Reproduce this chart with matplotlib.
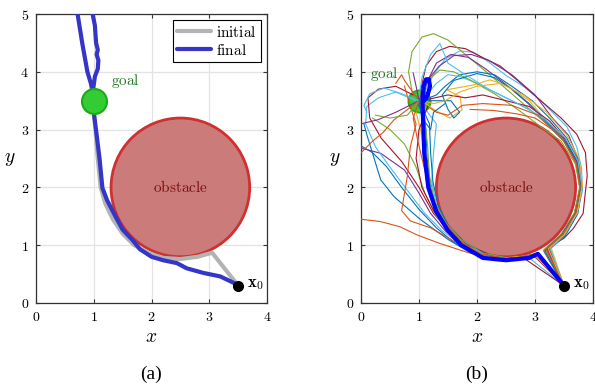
import matplotlib
matplotlib.use("Agg")
import matplotlib.pyplot as plt
from matplotlib.patches import Circle
from matplotlib.ticker import FuncFormatter

plt.rcParams['mathtext.fontset'] = 'cm'

# scene
obstacle_center = (2.5, 2.0)
obstacle_radius = 1.2
goal = (1.0, 3.5)
start = (3.5, 0.3)

# (a) initial and final paths
initial_x = [3.5, 3.05, 2.8, 2.5, 2.2, 1.95, 1.7, 1.5, 1.33, 1.2, 1.12, 1.07, 1.03, 1.0, 0.98]
initial_y = [0.3, 0.87, 0.8, 0.76, 0.78, 0.86, 1.0, 1.2, 1.45, 1.72, 2.0, 2.5, 3.0, 3.3, 3.6]

final_x = [3.5, 3.42, 3.19, 2.9, 2.61, 2.44, 2.2, 2.0, 1.8, 1.67, 1.5, 1.38, 1.23, 1.15, 1.1,
           1.04, 1.0, 0.98, 0.99, 1.02, 1.07, 1.08, 1.05, 1.07, 1.04, 1.02, 0.98, 0.95,
           0.8, 0.72, 0.8, 0.89, 0.95, 0.98]
final_y = [0.3, 0.35, 0.46, 0.52, 0.6, 0.69, 0.74, 0.8, 0.93, 1.09, 1.27, 1.49, 1.78, 1.99, 2.5,
           2.99, 3.3, 3.51, 3.7, 3.92, 4.05, 4.2, 4.3, 4.38, 4.5, 4.8, 5.0, 5.2,
           5.2, 5.0, 4.5, 4.0, 3.8, 3.65]

# (b) sampled trajectories
trajectories = [
    # around the right side of the obstacle
    [(3.5, 0.3), (3.22, 0.92), (3.5, 1.17), (3.72, 1.52), (3.82, 1.95), (3.8, 2.35), (3.72, 2.7),
     (3.55, 3.05), (3.3, 3.3), (3.09, 3.51), (2.8, 3.75), (2.51, 3.93), (2.2, 4.17), (1.94, 4.34),
     (1.7, 4.36), (1.45, 4.22), (1.25, 3.95), (1.05, 3.55)],
    [(3.5, 0.3), (3.2, 0.95), (3.5, 1.12), (3.66, 1.29), (3.83, 1.55), (3.86, 1.84), (3.9, 2.2),
     (3.87, 2.6), (3.72, 2.92), (3.45, 3.2), (3.1, 3.5), (2.7, 3.85), (2.4, 4.1), (2.11, 4.24),
     (1.8, 4.4), (1.53, 4.44), (1.3, 4.35), (1.12, 4.1), (1.0, 3.55)],
    [(3.5, 0.3), (3.18, 0.92), (3.47, 1.19), (3.69, 1.56), (3.77, 2.0), (3.7, 2.43), (3.5, 2.8),
     (3.2, 3.1), (2.85, 3.4), (2.45, 3.75), (2.1, 4.05), (1.8, 4.3), (1.5, 4.55), (1.25, 4.66),
     (1.05, 4.6), (0.88, 4.35), (0.82, 4.0), (0.9, 3.55)],
    [(3.5, 0.3), (3.15, 0.9), (3.46, 1.2), (3.68, 1.55), (3.78, 2.0), (3.72, 2.45), (3.52, 2.83),
     (3.2, 3.15), (2.85, 3.48), (2.5, 3.78), (2.15, 4.05), (1.85, 4.25), (1.55, 4.3), (1.3, 4.15),
     (1.15, 3.85), (1.05, 3.5)],
    [(3.5, 0.3), (3.25, 0.93), (3.52, 1.16), (3.74, 1.55), (3.81, 2.0), (3.75, 2.45), (3.55, 2.85),
     (3.25, 3.2), (2.95, 3.5), (2.6, 3.75), (2.3, 3.95), (2.0, 4.0), (1.7, 3.95), (1.45, 3.75),
     (1.3, 3.6), (1.05, 3.5)],
    [(3.5, 0.3), (3.2, 0.9), (3.48, 1.18), (3.71, 1.55), (3.8, 2.0), (3.74, 2.44), (3.53, 2.82),
     (3.2, 3.12), (2.9, 3.35), (2.6, 3.5), (2.3, 3.65), (2.0, 3.8), (1.7, 3.92), (1.5, 3.95),
     (1.3, 3.8), (1.05, 3.5)],
    [(3.5, 0.3), (3.28, 0.95), (3.5, 1.18), (3.72, 1.56), (3.8, 2.0), (3.73, 2.44), (3.5, 2.84),
     (3.2, 3.15), (2.9, 3.5), (2.51, 3.77), (2.22, 3.86), (1.93, 3.77), (1.48, 3.69), (1.71, 3.57),
     (1.74, 3.34), (1.53, 3.2), (1.25, 3.35), (1.05, 3.5)],
    [(3.5, 0.3), (3.15, 0.92), (3.46, 1.2), (3.68, 1.56), (3.77, 2.0), (3.7, 2.4), (3.45, 2.8),
     (3.1, 3.05), (2.7, 3.35), (2.3, 3.62), (1.9, 3.85), (1.6, 4.0), (1.36, 4.03), (1.15, 3.85),
     (1.0, 3.5)],
    [(1.88, 3.35), (2.3, 3.33), (2.7, 3.27), (3.0, 3.2), (3.3, 3.0), (3.55, 2.75), (3.72, 2.4),
     (3.79, 2.0), (3.72, 1.57), (3.5, 1.18), (3.22, 0.9), (3.5, 0.3)],
    [(3.5, 0.3), (3.24, 0.94), (3.5, 1.17), (3.7, 1.55), (3.79, 2.0), (3.73, 2.44), (3.52, 2.84),
     (3.25, 3.15), (2.9, 3.4), (2.5, 3.5), (2.1, 3.6), (1.8, 3.55), (1.5, 3.6), (1.05, 3.5)],
    [(3.5, 0.3), (3.17, 0.9), (3.47, 1.19), (3.7, 1.56), (3.79, 2.0), (3.72, 2.44), (3.5, 2.83),
     (3.2, 3.13), (2.9, 3.45), (2.6, 3.7), (2.3, 3.9), (2.0, 3.97), (1.6, 3.85), (1.4, 3.6),
     (1.5, 3.35), (1.6, 3.2), (1.7, 3.3), (1.55, 3.5), (1.05, 3.5)],
    [(3.5, 0.3), (3.21, 0.93), (3.49, 1.17), (3.71, 1.54), (3.8, 2.0), (3.76, 2.45), (3.58, 2.9),
     (3.3, 3.2), (3.0, 3.6), (2.6, 3.95), (2.2, 4.2), (1.9, 4.3), (1.6, 4.28), (1.35, 4.1),
     (1.1, 3.8), (1.0, 3.5)],
    [(3.5, 0.3), (3.26, 0.95), (3.51, 1.18), (3.73, 1.56), (3.81, 2.02), (3.74, 2.46), (3.52, 2.86),
     (3.15, 3.2), (2.7, 3.45), (2.2, 3.7), (1.8, 3.95), (1.5, 4.15), (1.36, 4.49), (1.2, 4.3),
     (1.05, 3.9), (1.0, 3.55)],
    [(3.5, 0.3), (3.23, 0.94), (3.5, 1.18), (3.73, 1.57), (3.82, 2.05), (3.76, 2.5), (3.55, 2.9),
     (3.2, 3.3), (2.8, 3.6), (2.4, 3.8), (2.0, 3.75), (1.7, 3.65), (1.45, 3.5), (1.25, 3.45),
     (1.05, 3.5)],
    [(3.5, 0.3), (3.19, 0.93), (3.48, 1.19), (3.7, 1.55), (3.78, 2.0), (3.71, 2.42), (3.48, 2.82),
     (3.05, 3.25), (2.6, 3.42), (2.1, 3.45), (1.75, 3.42), (1.5, 3.25), (1.3, 3.3), (1.0, 3.5)],
    # around the bottom / left side
    [(3.5, 0.3), (3.08, 0.84), (2.85, 0.77), (2.5, 0.74), (2.1, 0.79), (1.75, 0.98), (1.48, 1.28),
     (1.3, 1.62), (1.2, 2.0), (1.14, 2.5), (1.12, 3.0), (1.05, 3.3), (0.95, 3.5)],
    [(0.0, 1.45), (0.33, 1.41), (0.67, 1.32), (0.96, 1.18), (1.36, 1.03), (1.82, 0.88),
     (2.28, 0.76), (2.7, 0.75), (3.05, 0.84), (3.5, 0.3)],
    [(0.0, 2.72), (0.2, 2.6), (0.44, 2.36), (0.7, 2.0), (1.0, 1.62), (1.3, 1.3), (1.6, 1.05),
     (2.0, 0.83), (2.5, 0.76), (3.05, 0.85), (3.5, 0.3)],
    [(0.0, 2.68), (0.34, 2.59), (0.75, 2.3), (1.0, 1.9), (1.2, 1.55), (1.45, 1.25), (1.75, 1.0),
     (2.1, 0.8), (2.5, 0.75), (3.0, 0.82), (3.5, 0.3)],
    [(0.05, 3.1), (0.11, 2.88), (0.34, 2.13), (0.57, 1.84), (1.03, 1.44), (1.5, 1.1), (1.9, 0.86),
     (2.5, 0.75), (3.05, 0.84), (3.5, 0.3)],
    [(0.95, 3.5), (0.6, 3.65), (0.3, 3.55), (0.1, 3.4), (0.08, 3.1), (0.25, 2.7), (0.5, 2.35),
     (0.8, 1.95), (1.1, 1.55), (1.4, 1.25), (1.8, 0.95), (2.3, 0.77), (2.9, 0.78), (3.5, 0.3)],
    [(0.9, 3.6), (0.6, 3.75), (0.3, 3.7), (0.12, 3.55), (0.15, 3.2), (0.35, 2.85), (0.7, 2.45),
     (1.0, 2.0), (1.25, 1.55), (1.55, 1.2), (1.9, 0.93), (2.4, 0.76), (3.0, 0.8), (3.5, 0.3)],
    [(0.2, 3.2), (0.5, 3.0), (0.75, 2.75), (0.95, 2.35), (1.1, 1.9), (1.3, 1.5), (1.6, 1.15),
     (2.0, 0.88), (2.5, 0.77), (3.05, 0.85), (3.5, 0.3)],
    [(0.75, 3.75), (0.85, 3.4), (0.95, 3.1), (0.85, 2.7), (0.8, 2.2), (0.7, 1.6), (0.85, 1.42),
     (1.2, 1.3), (1.55, 1.1), (1.9, 0.9), (2.4, 0.76), (3.0, 0.83), (3.5, 0.3)],
    [(0.95, 3.3), (1.05, 2.9), (1.1, 2.4), (1.2, 1.95), (1.35, 1.55), (1.6, 1.2), (1.9, 0.95),
     (2.4, 0.78), (3.0, 0.82), (3.5, 0.3)],
    [(1.0, 3.5), (1.3, 3.1), (1.25, 2.6), (1.22, 2.1), (1.3, 1.7), (1.45, 1.38), (1.75, 1.05),
     (2.1, 0.85), (2.6, 0.75), (3.05, 0.84), (3.5, 0.3)],
    [(1.15, 3.4), (1.0, 3.0), (0.95, 2.5), (1.05, 2.0), (1.25, 1.6), (1.5, 1.27), (1.85, 1.0),
     (2.3, 0.8), (2.8, 0.78), (3.5, 0.3)],
    [(1.0, 3.5), (1.18, 3.1), (1.2, 2.6), (1.24, 2.1), (1.33, 1.68), (1.5, 1.35), (1.78, 1.06),
     (2.15, 0.84), (2.6, 0.76), (3.06, 0.86), (3.5, 0.3)],
    [(1.0, 3.5), (1.1, 3.2), (1.15, 2.7), (1.18, 2.2), (1.27, 1.75), (1.45, 1.4), (1.72, 1.1),
     (2.1, 0.86), (2.6, 0.77), (3.04, 0.86), (3.5, 0.3)],
    [(1.0, 3.5), (0.9, 3.2), (0.98, 2.8), (1.1, 2.3), (1.22, 1.85), (1.4, 1.45), (1.7, 1.08),
     (2.05, 0.85), (2.55, 0.76), (3.02, 0.85), (3.5, 0.3)],
    [(0.0, 3.1), (0.29, 3.17), (0.6, 3.3), (1.0, 3.5)],
    [(0.0, 2.6), (0.2, 2.8), (0.38, 2.95), (0.57, 3.17), (1.0, 3.5)],
    [(1.0, 3.5), (0.95, 3.75), (0.9, 3.98)],
    [(1.0, 3.5), (0.75, 3.85), (0.7, 3.95), (0.6, 3.8)],
    [(1.0, 3.5), (0.7, 3.62), (0.4, 3.72), (0.15, 3.62), (0.05, 3.42), (0.1, 3.3)],
    [(1.0, 3.5), (0.8, 3.25), (0.5, 3.2), (0.25, 3.25)],
    [(1.0, 3.5), (1.05, 3.2), (1.2, 3.0), (1.25, 3.3), (1.45, 3.45)],
]

best_x = [3.5, 3.05, 2.9, 2.5, 2.1, 1.73, 1.5, 1.3, 1.16, 1.09, 1.07, 1.06, 1.08, 1.12, 1.17, 1.19, 1.15, 1.09]
best_y = [0.3, 0.85, 0.78, 0.74, 0.78, 1.0, 1.25, 1.58, 2.0, 2.6, 3.17, 3.5, 3.75, 3.87, 3.87, 3.75, 3.6, 3.5]

# MATLAB default line colours, and which one each trajectory uses
matlab_colors = ['#0072BD', '#D95319', '#EDB120', '#7E2F8E', '#77AC30', '#4DBEEE', '#A2142F']
traj_color_idx = [5, 6, 4, 3, 0, 5, 2, 4, 1, 6, 0, 3, 5, 2, 1,
                  0, 1, 0, 3, 0, 5, 6, 4, 1, 2, 5, 6, 0, 4, 1,
                  3, 1, 3, 1, 5, 4, 0]

fig = plt.figure(figsize=(5.95, 3.87), dpi=100)
ax_a = fig.add_axes([36 / 595, 84 / 387, 231 / 595, 289 / 387])
ax_b = fig.add_axes([361 / 595, 84 / 387, 232 / 595, 289 / 387])

int_fmt = FuncFormatter(lambda v, pos: r'$%d$' % v)


def draw_scene(ax, goal_text_pos):
    ax.add_patch(Circle(obstacle_center, obstacle_radius, facecolor='#cc7b7b',
                        edgecolor='#cf3030', lw=2, zorder=2))
    ax.text(obstacle_center[0], obstacle_center[1], r'$\mathrm{obstacle}$', color='#7a1010',
            ha='center', va='center', fontsize=11, zorder=6)
    ax.plot(*start, 'o', ms=7, color='black', zorder=7)
    ax.text(start[0] + 0.15, start[1] + 0.05, r'$\mathbf{x}_0$', fontsize=12,
            va='center', ha='left', zorder=7)
    ax.text(goal_text_pos[0], goal_text_pos[1], r'$\mathrm{goal}$', color='#1e7a1e',
            fontsize=11, ha='left', va='center', zorder=7)
    ax.set_xlim(0, 4)
    ax.set_ylim(0, 5)
    ax.set_xticks([0, 1, 2, 3, 4])
    ax.set_yticks([0, 1, 2, 3, 4, 5])
    ax.xaxis.set_major_formatter(int_fmt)
    ax.yaxis.set_major_formatter(int_fmt)
    ax.grid(True, color='#e3e3e3', lw=0.9)
    ax.set_axisbelow(True)
    ax.tick_params(direction='in', top=True, right=True, labelsize=10,
                   length=3, color='#333333', pad=5)
    for s in ax.spines.values():
        s.set_color('#333333')
        s.set_linewidth(0.9)
    ax.set_xlabel('$x$', fontsize=14, labelpad=2)
    ax.set_ylabel('$y$', fontsize=14, rotation=0, labelpad=8, va='center')


# (a)
ax_a.plot(initial_x, initial_y, color='#b3b3b3', lw=3, label=r'$\mathrm{initial}$', zorder=3,
          solid_capstyle='round')
ax_a.plot(final_x, final_y, color='#3535c8', lw=3, label=r'$\mathrm{final}$', zorder=4,
          solid_capstyle='round')
ax_a.plot(*goal, 'o', ms=18, mfc='#33cc33', mec='#1aaa1a', mew=1.5, zorder=5)
draw_scene(ax_a, (1.3, 3.84))
leg = ax_a.legend(loc='upper right', fontsize=11, fancybox=False, framealpha=1,
                  edgecolor='black', handlelength=2.2, borderaxespad=0.4,
                  labelspacing=0.2, borderpad=0.3, handletextpad=0.3)
leg.get_frame().set_linewidth(0.8)

# (b)
for traj, ci in zip(trajectories, traj_color_idx):
    xs = [p[0] for p in traj]
    ys = [p[1] for p in traj]
    ax_b.plot(xs, ys, color=matlab_colors[ci], lw=0.8, zorder=4)
ax_b.plot(*goal, 'o', ms=16, mfc='#33cc33', mec='#1aaa1a', mew=1.2, zorder=3)
ax_b.plot(best_x, best_y, color='#0000ff', lw=3, zorder=5, solid_capstyle='round')
draw_scene(ax_b, (0.16, 3.97))

fig.text(151 / 595, 1 - 374 / 387, '(a)', fontsize=14, family='Liberation Serif',
         ha='center', va='center')
fig.text(477 / 595, 1 - 374 / 387, '(b)', fontsize=14, family='Liberation Serif',
         ha='center', va='center')

fig.savefig('out.png', dpi=100)
